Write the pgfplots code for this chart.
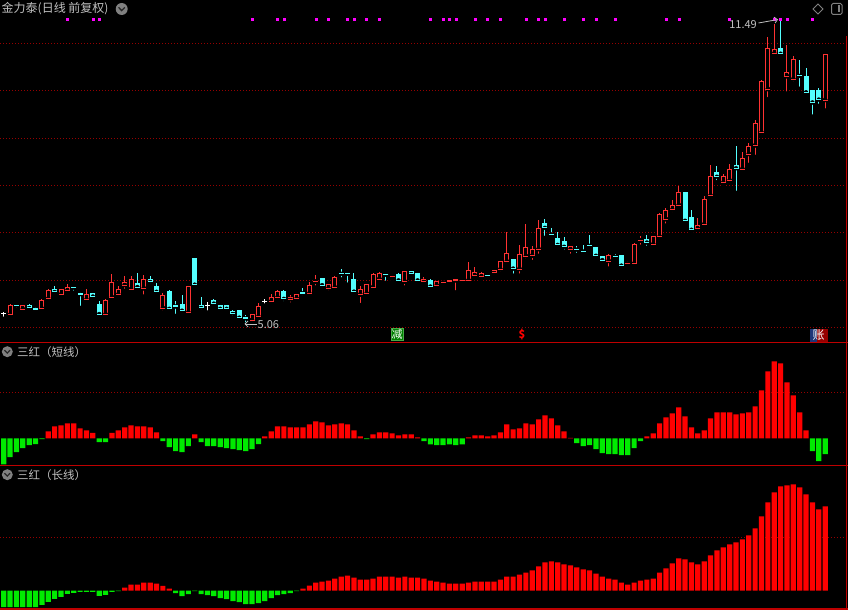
\documentclass[border=0pt]{standalone}
\usepackage{pgfplots}
\pgfplotsset{compat=1.18}
\usepackage{pgfplotstable}
\usetikzlibrary{arrows.meta}
\usepackage{fontspec}
\newfontfamily\cjk{Noto Sans CJK SC}
\definecolor{upred}{RGB}{255,50,50}
\definecolor{dncyan}{RGB}{84,255,255}
\definecolor{barred}{RGB}{255,0,0}
\definecolor{bargreen}{RGB}{0,235,0}
\definecolor{framered}{RGB}{190,0,0}
\definecolor{gridred}{RGB}{150,0,0}
\definecolor{txt}{RGB}{192,192,192}
\definecolor{sig}{RGB}{255,0,255}
\definecolor{taggreen}{RGB}{0,128,0}
\definecolor{tagedge}{RGB}{70,170,70}
\definecolor{tagblue}{RGB}{30,55,120}
\definecolor{tagred}{RGB}{150,0,0}

% daily candles: index, open, high, low, close
\pgfplotstableread[row sep=\\]{
i o h l c\\
1 5.26 5.49 5.24 5.47\\ 3 5.38 5.47 5.38 5.47\\ 6 5.39 5.59 5.38 5.57\\ 7 5.60 5.80 5.56 5.78\\
9 5.69 5.80 5.68 5.79\\ 10 5.77 5.92 5.74 5.85\\ 13 5.58 5.80 5.56 5.70\\ 16 5.27 5.60 5.27 5.57\\
17 5.63 6.13 5.63 5.94\\ 18 5.69 5.87 5.63 5.80\\ 19 5.89 6.08 5.77 5.94\\ 20 5.80 6.08 5.80 6.01\\
22 5.82 6.11 5.65 6.01\\ 25 5.40 5.73 5.31 5.68\\ 29 5.31 5.88 5.29 5.87\\ 39 5.15 5.28 5.11 5.27\\
40 5.22 5.51 5.18 5.44\\ 42 5.54 5.70 5.48 5.63\\ 43 5.63 5.79 5.61 5.75\\ 45 5.59 5.68 5.48 5.63\\
46 5.60 5.70 5.60 5.70\\ 48 5.71 5.96 5.64 5.89\\ 49 5.96 6.11 5.84 5.97\\ 51 5.82 5.90 5.73 5.90\\
52 5.84 6.08 5.80 6.06\\ 56 5.69 5.88 5.47 5.79\\ 57 5.71 5.90 5.71 5.90\\ 58 5.84 6.14 5.84 6.11\\
59 6.02 6.17 5.99 6.13\\ 61 6.07 6.11 6.01 6.08\\ 63 5.96 6.18 5.84 6.18\\ 66 5.97 6.06 5.90 6.00\\
68 5.88 5.96 5.86 5.96\\ 69 5.94 6.00 5.87 5.95\\ 70 5.97 6.01 5.90 5.98\\ 71 5.99 6.01 5.74 6.00\\
72 5.98 6.02 5.91 5.99\\ 73 5.99 6.38 5.99 6.19\\ 74 6.09 6.28 6.04 6.15\\ 75 6.07 6.16 6.02 6.13\\
77 6.15 6.21 6.09 6.19\\ 78 6.22 6.39 6.13 6.39\\ 79 6.39 7.01 6.36 6.56\\ 81 6.23 6.74 6.09 6.54\\
82 6.50 7.18 6.41 6.68\\ 83 6.51 6.72 6.38 6.65\\ 84 6.65 7.27 6.51 7.08\\ 89 6.64 6.71 6.51 6.71\\
95 6.40 6.55 6.24 6.51\\ 98 6.34 6.40 6.30 6.35\\ 99 6.34 6.78 6.34 6.75\\ 100 6.83 6.93 6.70 6.84\\
102 6.75 6.92 6.70 6.92\\ 103 6.91 7.41 6.91 7.39\\ 104 7.28 7.53 7.15 7.46\\ 105 7.48 7.68 7.39 7.58\\
106 7.58 7.99 7.50 7.84\\ 109 7.08 7.31 7.08 7.16\\ 110 7.17 7.77 7.17 7.69\\ 111 7.78 8.43 7.71 8.18\\
113 8.05 8.24 8.03 8.18\\ 114 8.10 8.45 8.06 8.34\\ 116 8.34 8.71 8.34 8.57\\ 117 8.66 8.89 8.43 8.82\\
118 8.84 9.38 8.60 9.30\\ 119 9.11 10.22 9.06 10.20\\ 120 10.03 11.13 9.82 10.89\\ 121 10.78 11.41 10.75 10.86\\
123 10.30 10.96 9.94 10.39\\ 124 10.24 10.73 10.15 10.65\\ 129 9.80 10.77 9.58 10.77\\
}\updata

\pgfplotstableread[row sep=\\]{
i o h l c\\
2 5.47 5.47 5.37 5.46\\ 4 5.47 5.49 5.35 5.41\\ 5 5.39 5.43 5.33 5.38\\ 8 5.79 5.87 5.70 5.75\\
11 5.85 5.85 5.73 5.84\\ 12 5.71 5.75 5.41 5.70\\ 14 5.71 5.73 5.59 5.65\\ 15 5.49 5.56 5.22 5.28\\
21 5.92 6.15 5.83 5.85\\ 23 6.01 6.08 5.88 5.96\\ 24 5.87 5.94 5.70 5.75\\ 26 5.75 5.79 5.36 5.39\\
27 5.45 5.56 5.24 5.44\\ 28 5.49 5.68 5.31 5.35\\ 30 6.46 6.47 5.89 5.90\\ 31 5.47 5.64 5.33 5.41\\
33 5.57 5.59 5.46 5.50\\ 34 5.47 5.47 5.35 5.39\\ 35 5.45 5.47 5.35 5.39\\ 36 5.33 5.37 5.21 5.30\\
37 5.35 5.35 5.20 5.20\\ 38 5.20 5.25 5.06 5.19\\ 44 5.75 5.79 5.51 5.60\\ 47 5.73 5.82 5.64 5.72\\
50 6.04 6.04 5.84 5.89\\ 53 6.14 6.23 6.01 6.13\\ 54 6.14 6.14 5.90 6.13\\ 55 6.02 6.15 5.75 5.75\\
60 6.12 6.12 5.94 6.11\\ 62 6.11 6.14 5.96 5.99\\ 64 6.18 6.18 6.11 6.13\\ 65 6.13 6.13 5.96 5.99\\
67 5.99 6.01 5.84 5.86\\ 76 6.10 6.13 6.05 6.09\\ 80 6.44 6.44 6.09 6.24\\ 85 7.20 7.29 6.89 7.10\\
86 6.97 7.10 6.89 6.96\\ 87 6.87 7.01 6.72 6.74\\ 88 6.82 6.90 6.60 6.70\\ 90 6.65 6.72 6.53 6.64\\
91 6.61 6.73 6.58 6.60\\ 92 6.73 6.95 6.68 6.72\\ 93 6.68 6.68 6.47 6.51\\ 94 6.49 6.49 6.38 6.42\\
96 6.50 6.55 6.42 6.49\\ 97 6.51 6.51 6.30 6.30\\ 101 6.85 6.95 6.68 6.79\\ 107 7.84 7.84 7.19 7.25\\
108 7.31 7.48 7.00 7.06\\ 112 8.28 8.41 8.07 8.18\\ 115 8.41 8.82 7.84 8.36\\ 122 10.88 11.49 10.72 10.78\\
125 10.32 10.65 10.04 10.31\\ 126 10.29 10.48 9.96 9.96\\ 127 10.01 10.01 9.45 9.75\\ 128 10.01 10.06 9.68 9.81\\
}\downdata

\pgfplotstableread[row sep=\\]{
i o h l c\\
0 5.30 5.33 5.18 5.30\\ 32 5.45 5.54 5.31 5.45\\ 41 5.54 5.59 5.46 5.54\\
}\dojidata

% signal dots along the top
\pgfplotstableread[row sep=\\]{
i y\\ 10 11.51\\ 14 11.51\\ 15 11.51\\ 39 11.51\\ 43 11.51\\ 44 11.51\\ 49 11.51\\ 51 11.51\\
54 11.51\\ 55 11.51\\ 57 11.51\\ 59 11.51\\ 67 11.51\\ 69 11.51\\ 70 11.51\\ 71 11.51\\ 74 11.51\\
76 11.51\\ 78 11.51\\ 82 11.51\\ 84 11.51\\ 85 11.51\\ 88 11.51\\ 91 11.51\\ 93 11.51\\ 96 11.51\\
104 11.51\\ 106 11.51\\ 114 11.51\\ 121 11.51\\ 122 11.51\\ 123 11.51\\ 127 11.51\\
}\sigdata

% 三红（短线）
\pgfplotstableread[row sep=\\]{
i v\\ 0 -26\\ 1 -18.7\\ 2 -13.7\\ 3 -9.7\\ 4 -6.7\\ 5 -5.7\\ 6 -0.7\\ 7 7\\ 8 12\\ 9 13\\
10 15\\ 11 15\\ 12 10\\ 13 8\\ 14 5.7\\ 15 -3.7\\ 16 -3.7\\ 17 5.7\\ 18 8\\ 19 11\\
20 13\\ 21 12\\ 22 12\\ 23 11\\ 24 6\\ 25 -2.7\\ 26 -8.7\\ 27 -12.7\\ 28 -13.7\\ 29 -7.7\\
30 4\\ 31 -3.7\\ 32 -7.7\\ 33 -7.7\\ 34 -8.7\\ 35 -9.7\\ 36 -10.7\\ 37 -11.7\\ 38 -12.7\\ 39 -10.7\\
40 -5.7\\ 41 2\\ 42 7\\ 43 12\\ 44 12\\ 45 11\\ 46 11\\ 47 11\\ 48 14\\ 49 17\\
50 16\\ 51 13\\ 52 14\\ 53 15\\ 54 14\\ 55 8\\ 56 2\\ 57 -0.7\\ 58 4\\ 59 6\\
60 6\\ 61 5\\ 62 3\\ 63 4\\ 64 4\\ 65 1\\ 66 -2.7\\ 67 -6\\ 68 -6.7\\ 69 -6.7\\
70 -6\\ 71 -6.7\\ 72 -6\\ 73 1\\ 74 3\\ 75 3\\ 76 2\\ 77 3\\ 78 6\\ 79 14\\
80 9\\ 81 10\\ 82 15\\ 83 14\\ 84 19\\ 85 23\\ 86 20\\ 87 13\\ 88 7\\ 89 0.7\\
90 -4.7\\ 91 -7.7\\ 92 -6.7\\ 93 -10.7\\ 94 -14.7\\ 95 -15.7\\ 96 -15.7\\ 97 -16.7\\ 98 -16.7\\ 99 -9.7\\
100 -2.7\\ 101 2\\ 102 5\\ 103 15\\ 104 21\\ 105 25\\ 106 31\\ 107 22\\ 108 11\\ 109 5\\
110 8\\ 111 20\\ 112 26\\ 113 26\\ 114 26\\ 115 24\\ 116 25\\ 117 26\\ 118 32\\ 119 48\\
120 67\\ 121 77\\ 122 75\\ 123 56\\ 124 43\\ 125 26\\ 126 8\\ 127 -12.7\\ 128 -22.7\\ 129 -15.7\\
}\shortdata

% 三红（长线）
\pgfplotstableread[row sep=\\]{
i v\\ 0 -16.7\\ 1 -16.7\\ 2 -16.7\\ 3 -16.7\\ 4 -16.7\\ 5 -16.7\\ 6 -14.3\\ 7 -11.3\\ 8 -8.3\\ 9 -6.3\\
10 -3.3\\ 11 -2.3\\ 12 -1.3\\ 13 -1.3\\ 14 -1.3\\ 15 -5.3\\ 16 -4.3\\ 17 -1.3\\ 18 -0.5\\ 19 3\\
20 6\\ 21 6\\ 22 8\\ 23 8\\ 24 7\\ 25 4.7\\ 26 2\\ 27 -2.7\\ 28 -5.7\\ 29 -3.7\\
30 -0.7\\ 31 -3.7\\ 32 -4.7\\ 33 -5.7\\ 34 -7.7\\ 35 -8.7\\ 36 -10.7\\ 37 -11.7\\ 38 -13.7\\ 39 -13.7\\
40 -12.7\\ 41 -10.7\\ 42 -7.7\\ 43 -4.7\\ 44 -3.7\\ 45 -2.7\\ 46 -0.7\\ 47 2\\ 48 5\\ 49 8\\
50 9\\ 51 10\\ 52 12\\ 53 14\\ 54 15\\ 55 13\\ 56 11\\ 57 11\\ 58 12\\ 59 14\\
60 14\\ 61 14\\ 62 13\\ 63 14\\ 64 13\\ 65 13\\ 66 12\\ 67 10\\ 68 9\\ 69 8\\
70 7\\ 71 7\\ 72 7\\ 73 8\\ 74 9\\ 75 9\\ 76 9\\ 77 9\\ 78 11\\ 79 14\\
80 14\\ 81 16\\ 82 18\\ 83 20\\ 84 24\\ 85 28\\ 86 29\\ 87 28\\ 88 26\\ 89 25\\
90 23\\ 91 21\\ 92 20\\ 93 17\\ 94 14\\ 95 12\\ 96 11\\ 97 8\\ 98 6\\ 99 8\\
100 10\\ 101 11\\ 102 12\\ 103 18\\ 104 22\\ 105 27\\ 106 32\\ 107 31\\ 108 28\\ 109 26\\
110 29\\ 111 35\\ 112 40\\ 113 43\\ 114 46\\ 115 48\\ 116 51\\ 117 55\\ 118 62\\ 119 74\\
120 88\\ 121 98\\ 122 104\\ 123 105\\ 124 106\\ 125 103\\ 126 96\\ 127 88\\ 128 81\\ 129 84\\
}\longdata

\pgfplotsset{
  panel/.style={scale only axis, width=846.5pt, xmin=-0.58, xmax=132.35,
    anchor=south west, axis line style={draw=none}, xtick=\empty,
    yticklabels={}, major tick length=0pt, ymajorgrids,
    grid style={gridred, line width=0.8pt, dash pattern=on 1pt off 2pt}},
  ebar/.style n args={2}{only marks, mark=none, error bars/.cd, y dir=plus, y explicit,
    error mark=none, error bar style={draw=#1, line width=#2}},
  edge/.style={only marks, mark=-, mark size=2.5pt, mark options={draw=#1, line width=1pt}},
  indbar/.style={ybar, bar width=5.2pt, bar shift=0pt, draw=none, fill=#1},
}

\begin{document}
\begin{tikzpicture}[x=1pt,y=1pt]
\useasboundingbox (0,0) rectangle (848,610);
\fill[black] (0,0) rectangle (848,610);

% candles
\begin{axis}[panel, at={(0pt,267.7pt)}, height=342.3pt, ymin=4.683, ymax=11.915, ytick={5,...,11}]
  % up candles: wick, hollow body
  \addplot[ebar={upred}{1pt}] table[x=i, y=l, y error plus expr=\thisrow{h}-\thisrow{l}] {\updata};
  \addplot[ebar={upred}{5pt}] table[x=i, y=o, y error plus expr=\thisrow{c}-\thisrow{o}] {\updata};
  \addplot[ebar={black}{3pt}] table[x=i, y expr=\thisrow{o}+0.0106,
      y error plus expr={max(\thisrow{c}-\thisrow{o}-0.0211,0)}] {\updata};
  \addplot[edge=upred] table[x=i, y=o] {\updata};
  \addplot[edge=upred] table[x=i, y=c] {\updata};
  % down candles: wick, filled body
  \addplot[ebar={dncyan}{1pt}] table[x=i, y=l, y error plus expr=\thisrow{h}-\thisrow{l}] {\downdata};
  \addplot[ebar={dncyan}{5pt}] table[x=i, y=c, y error plus expr=\thisrow{o}-\thisrow{c}] {\downdata};
  \addplot[edge=dncyan] table[x=i, y=o] {\downdata};
  \addplot[edge=dncyan] table[x=i, y=c] {\downdata};
  % flat candles
  \addplot[ebar={white}{1pt}] table[x=i, y=l, y error plus expr=\thisrow{h}-\thisrow{l}] {\dojidata};
  \addplot[edge=white] table[x=i, y=o] {\dojidata};
  % signals
  \addplot[only marks, mark=square*, mark size=1pt, sig] table[x=i, y=y] {\sigdata};
\end{axis}

% 三红（短线）
\begin{axis}[panel, at={(0pt,144.7pt)}, height=123pt, ymin=-26.8, ymax=96.2, ytick={46.2}]
  \addplot[indbar=barred, restrict y to domain=0:1000] table[x=i, y=v] {\shortdata};
  \addplot[indbar=bargreen, restrict y to domain=-1000:0] table[x=i, y=v] {\shortdata};
\end{axis}

% 三红（长线）
\begin{axis}[panel, at={(0pt,1pt)}, height=143.7pt, ymin=-18.5, ymax=125.2, ytick={53.2}]
  \addplot[indbar=barred, restrict y to domain=0:1000] table[x=i, y=v] {\longdata};
  \addplot[indbar=bargreen, restrict y to domain=-1000:0] table[x=i, y=v] {\longdata};
\end{axis}

% frame
\draw[framered, line width=1.3pt] (0,267.7) -- (848,267.7);
\draw[framered, line width=1.3pt] (0,144.7) -- (848,144.7);
\draw[framered, line width=1.3pt] (0,1) -- (848,1);
\draw[framered, line width=1.3pt] (846.7,1) -- (846.7,574);

% titles
\node[anchor=west, text=txt, inner sep=0, font=\cjk\fontsize{12}{12}\selectfont] at (1.5,601) {金力泰(日线 前复权)};
\fill[gray] (121.7,601) circle (6);
\draw[black!85, line width=1.3pt] (118.6,602.6) -- (121.7,599.4) -- (124.8,602.6);
\fill[gray] (7.3,258.3) circle (5.5);
\draw[black!85, line width=1.2pt] (4.5,259.8) -- (7.3,256.9) -- (10.1,259.8);
\node[anchor=west, text=txt, inner sep=0, font=\cjk\fontsize{11.5}{11.5}\selectfont] at (17,258.3) {三红（短线）};
\fill[gray] (7.3,135.3) circle (5.5);
\draw[black!85, line width=1.2pt] (4.5,136.8) -- (7.3,133.9) -- (10.1,136.8);
\node[anchor=west, text=txt, inner sep=0, font=\cjk\fontsize{11.5}{11.5}\selectfont] at (17,135.3) {三红（长线）};

% top right icons
\draw[gray, line width=0.8pt] (818,606) -- (823,601) -- (818,596) -- (813,601) -- cycle;
\draw[gray, line width=1pt, rounded corners=1.5pt] (831.5,595.5) rectangle (842,606.5);
\fill[gray] (837.5,597.5) rectangle (840,604.5);

% price marks
\node[anchor=east, text=txt, inner sep=0, font=\cjk\fontsize{11}{11}\selectfont] at (757,585) {11.49};
\draw[txt, line width=0.8pt, -{Straight Barb[length=3pt]}] (758.5,587) -- (778,590.5);
\node[anchor=west, text=txt, inner sep=0, font=\cjk\fontsize{11}{11}\selectfont] at (257.5,285) {5.06};
\draw[txt, line width=0.8pt, -{Straight Barb[length=3pt]}] (256.5,286) -- (244.5,286);

% event tags
\node[fill=taggreen, draw=tagedge, text=white, inner sep=0.3pt, minimum size=12pt,
  font=\cjk\fontsize{11}{11}\selectfont] at (397,276) {减};
\node[text=red, inner sep=0, font=\cjk\bfseries\fontsize{11}{11}\selectfont] at (522,275.5) {\$};
\fill[tagblue] (809.5,268.4) rectangle (816.8,280.5);
\fill[tagred] (816.8,268.4) rectangle (828,280.5);
\node[text=white, inner sep=0, font=\cjk\fontsize{12}{12}\selectfont] at (818.7,274.5) {账};
\end{tikzpicture}
\end{document}
